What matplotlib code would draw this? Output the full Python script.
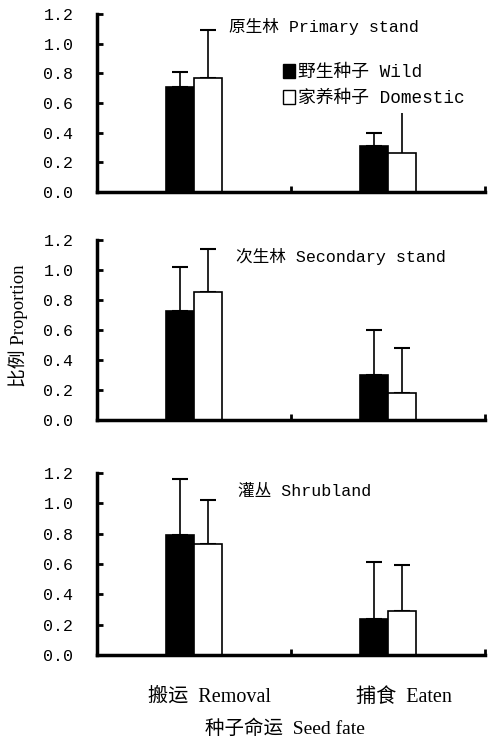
import matplotlib
matplotlib.use("Agg")
import matplotlib.pyplot as plt
from matplotlib.patches import Patch
import numpy as np

plt.rcParams['font.family'] = ['Liberation Mono', 'Noto Sans CJK SC']

fates = ["搬运  Removal", "捕食  Eaten"]
panels = ["原生林 Primary stand", "次生林 Secondary stand", "灌丛 Shrubland"]
wild_mean = [[0.71, 0.31], [0.73, 0.30], [0.79, 0.24]]
wild_err = [[0.10, 0.09], [0.29, 0.30], [0.37, 0.37]]
dom_mean = [[0.77, 0.26], [0.855, 0.18], [0.73, 0.29]]
dom_err = [[0.32, 0.27], [0.285, 0.30], [0.29, 0.305]]
yticks = [0.0, 0.2, 0.4, 0.6, 0.8, 1.0, 1.2]
ytick_labels = ["0.0", "0.2", "0.4", "0.6", "0.8", "1.0", "1.2"]

fig = plt.figure(figsize=(4.9, 7.4), dpi=100)
W, H = 490, 740
boxes = [(14, 192), (240, 420), (473, 655)]
title_pos = [(0.34, 0.927), (0.358, 0.906), (0.363, 0.90)]
left_px, right_px = 97, 485
x = np.array([0.5, 1.5])
bw = 0.144

for i, (top, bot) in enumerate(boxes):
    ax = fig.add_axes([left_px / W, 1 - bot / H, (right_px - left_px) / W, (bot - top) / H])
    ax.bar(x - bw / 2, wild_mean[i], bw, color='black', edgecolor='black', linewidth=1.2, zorder=2)
    ax.bar(x + bw / 2, dom_mean[i], bw, color='white', edgecolor='black', linewidth=1.2, zorder=2)
    ax.errorbar(x - bw / 2, wild_mean[i], yerr=[[0, 0], wild_err[i]], fmt='none',
                ecolor='black', elinewidth=1.2, capsize=6, capthick=1.5, zorder=1)
    if i == 0:
        ax.errorbar(x[0] + bw / 2, dom_mean[i][0], yerr=[[0], [dom_err[i][0]]], fmt='none',
                    ecolor='black', elinewidth=1.2, capsize=6, capthick=1.5, zorder=1)
        ax.errorbar(x[1] + bw / 2, dom_mean[i][1], yerr=[[0], [dom_err[i][1]]], fmt='none',
                    ecolor='black', elinewidth=1.2, capsize=0, zorder=1)
    else:
        ax.errorbar(x + bw / 2, dom_mean[i], yerr=[[0, 0], dom_err[i]], fmt='none',
                    ecolor='black', elinewidth=1.2, capsize=6, capthick=1.5, zorder=1)
    ax.set_xlim(0, 2)
    ax.set_ylim(0, 1.2)
    ax.set_yticks(yticks)
    ax.set_yticklabels(ytick_labels, fontsize=12)
    ax.set_xticks([1, 2])
    ax.set_xticklabels([])
    ax.tick_params(axis='both', direction='in', length=4, width=2)
    ax.tick_params(axis='y', pad=17)
    for s in ['top', 'right']:
        ax.spines[s].set_visible(False)
    for s in ['left', 'bottom']:
        ax.spines[s].set_linewidth(2.5)
    tx, ty = title_pos[i]
    ax.text(tx, ty, panels[i], fontsize=12, ha='left', va='center', transform=ax.transAxes)
    if i == 0:
        handles = [Patch(facecolor='black', edgecolor='black'),
                   Patch(facecolor='white', edgecolor='black')]
        ax.legend(handles, ["野生种子 Wild", "家养种子 Domestic"], loc='upper left',
                  bbox_to_anchor=(0.48, 0.72), frameon=False, fontsize=12.8,
                  handlelength=0.65, handleheight=0.85, handletextpad=0.2, labelspacing=0.5,
                  borderaxespad=0, borderpad=0)
    if i == 2:
        for xi, lab in zip(x, fates):
            ax.text(xi + 0.08, -0.28, lab, ha='center', va='center', fontsize=14.5,
                    family=['Liberation Serif', 'Noto Sans CJK SC'])

fig.text(18 / W, 1 - 326 / H, "比例 Proportion", rotation=90, ha='center', va='center',
         fontsize=13.5, family=['Liberation Serif', 'Noto Sans CJK SC'])
fig.text(285 / W, 1 - 729 / H, "种子命运  Seed fate", ha='center', va='center',
         fontsize=14, family=['Liberation Serif', 'Noto Sans CJK SC'])

fig.savefig("out.png", dpi=100)
